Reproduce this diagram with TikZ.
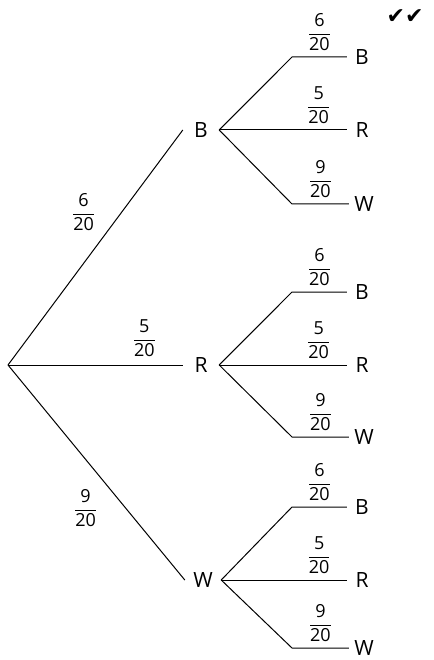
\documentclass[tikz,border=0pt]{standalone}
\usepackage{fontspec}
\setmainfont{Open Sans}
\newfontfamily\symfont{DejaVu Sans}
\newcommand{\prb}[2]{$\displaystyle\frac{\mbox{#1}}{\mbox{#2}}$}

\begin{document}
\begin{tikzpicture}[x=1pt,y=-1pt,
		branch/.style={line width=1pt},
		outcome/.style={font=\fontsize{21}{25}\selectfont, inner sep=0pt, minimum width=36pt},
		leaf/.style={font=\fontsize{21}{25}\selectfont, inner sep=0pt, minimum width=30pt},
		prob/.style={font=\fontsize{18}{21}\selectfont, inner sep=2pt}]
		\useasboundingbox (0,0) rectangle (433,660);
		
		% Root
		\coordinate (root) at (8,365);
		
		% First draw
		\node[outcome] (B) at (201,130) {B};
		\node[outcome] (R) at (201,365) {R};
		\node[outcome] (W) at (203,580) {W};
		\draw[branch] (root) -- node[prob, pos=0.65, left=24pt] (pB) {\prb{6}{20}} (B.west);
		\draw[branch] (root) -- node[prob, pos=0.78, above=6pt] (pR) {\prb{5}{20}} (R.west);
		\draw[branch] (root) -- node[prob, pos=0.665, left=26pt] (pW) {\prb{9}{20}} (W.west);
		
		% Second draw after B
		\coordinate (BBc) at (292,57);
		\coordinate (BWc) at (292,204);
		\node[leaf] (BB) at (362,57) {B};
		\node[leaf] (BR) at (362,130) {R};
		\node[leaf] (BW) at (364,204) {W};
		\draw[branch] (B.east) -- (BBc) -- node[prob, above=4pt] (pBB) {\prb{6}{20}} (BB.west);
		\draw[branch] (B.east) -- node[prob, pos=0.78, above=4pt] (pBR) {\prb{5}{20}} (BR.west);
		\draw[branch] (B.east) -- (BWc) -- node[prob, above=4pt] (pBW) {\prb{9}{20}} (BW.west);
		
		% Second draw after R
		\coordinate (RBc) at (292,292);
		\coordinate (RWc) at (292,437);
		\node[leaf] (RB) at (362,292) {B};
		\node[leaf] (RR) at (362,365) {R};
		\node[leaf] (RW) at (364,437) {W};
		\draw[branch] (R.east) -- (RBc) -- node[prob, above=4pt] (pRB) {\prb{6}{20}} (RB.west);
		\draw[branch] (R.east) -- node[prob, pos=0.78, above=4pt] (pRR) {\prb{5}{20}} (RR.west);
		\draw[branch] (R.east) -- (RWc) -- node[prob, above=4pt] (pRW) {\prb{9}{20}} (RW.west);
		
		% Second draw after W
		\coordinate (WBc) at (292,507);
		\coordinate (WWc) at (292,648);
		\node[leaf] (WB) at (362,507) {B};
		\node[leaf] (WR) at (362,580) {R};
		\node[leaf] (WW) at (364,648) {W};
		\draw[branch] (W.east) -- (WBc) -- node[prob, above=4pt] (pWB) {\prb{6}{20}} (WB.west);
		\draw[branch] (W.east) -- node[prob, pos=0.78, above=4pt] (pWR) {\prb{5}{20}} (WR.west);
		\draw[branch] (W.east) -- (WWc) -- node[prob, above=4pt] (pWW) {\prb{9}{20}} (WW.west);
		
		% Marks
		\node[font=\symfont\fontsize{22}{24}\selectfont] (ticks) at (405,17) {✔✔};
		
	\end{tikzpicture}
\end{document}
